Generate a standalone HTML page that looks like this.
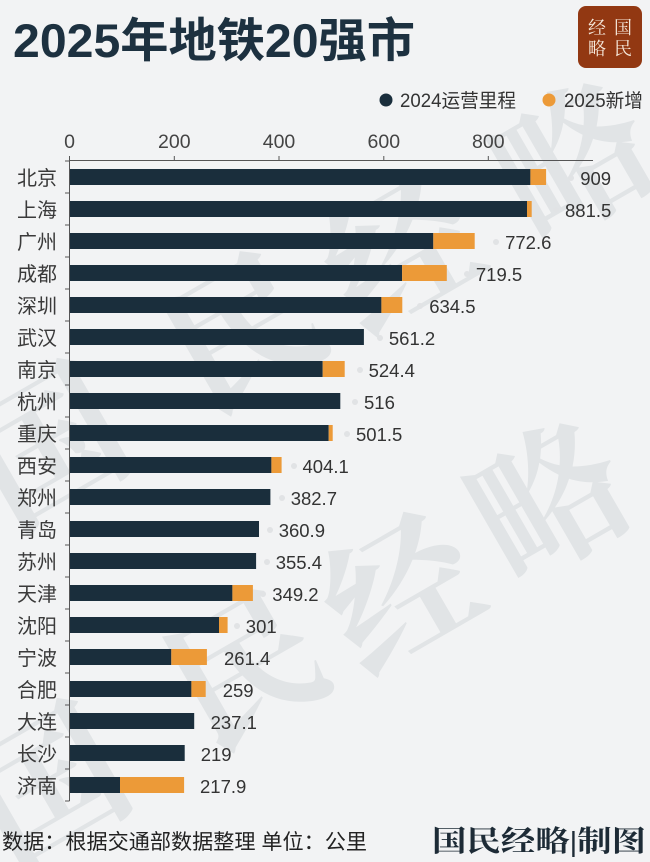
<!DOCTYPE html>
<html>
<head>
<meta charset="utf-8">
<style>
  html,body{margin:0;padding:0;background:#f2f3f4;}
  svg{display:block;}
  .cjk{font-family:"Liberation Sans","Noto Sans CJK SC",sans-serif;}
  .num{font-family:"Liberation Sans","Noto Sans CJK SC",sans-serif;}
  .ser{font-family:"Liberation Serif","Noto Serif CJK SC",serif;}
</style>
</head>
<body>
<svg width="650" height="862" viewBox="0 0 650 862" xmlns="http://www.w3.org/2000/svg">
  <rect x="0" y="0" width="650" height="862" fill="#f2f3f4"/>

  <!-- watermark -->
  <g class="ser" font-size="150" font-weight="700" fill="#e1e4e6" text-anchor="middle" dominant-baseline="central">
    <text transform="translate(50,450) rotate(-30)">国</text>
    <text transform="translate(245,335) rotate(-30)">民</text>
    <text transform="translate(403,256) rotate(-30)">经</text>
    <text transform="translate(575,165) rotate(-30)">略</text>
    <text transform="translate(50,790) rotate(-30)">国</text>
    <text transform="translate(248,672) rotate(-30)">民</text>
    <text transform="translate(403,596) rotate(-30)">经</text>
    <text transform="translate(551,505) rotate(-30)">略</text>
  </g>

  <!-- title -->
  <text x="13" y="57" class="cjk" font-size="47" font-weight="700" fill="#1d3140" textLength="402" lengthAdjust="spacingAndGlyphs">2025年地铁20强市</text>

  <!-- logo -->
  <rect x="578" y="6" width="64" height="62" rx="8" fill="#923812"/>
  <g class="ser" font-size="18" fill="#f6e9dc" text-anchor="middle">
    <text x="597" y="34">经</text>
    <text x="623" y="34">国</text>
    <text x="597" y="55">略</text>
    <text x="623" y="55">民</text>
  </g>

  <!-- legend -->
  <circle cx="386" cy="100" r="6.5" fill="#1a2e3c"/>
  <text x="400" y="107" class="cjk" font-size="19" fill="#333" textLength="116" lengthAdjust="spacingAndGlyphs">2024运营里程</text>
  <circle cx="549" cy="100" r="6.5" fill="#ec9a38"/>
  <text x="564" y="107" class="cjk" font-size="19" fill="#333" textLength="79" lengthAdjust="spacingAndGlyphs">2025新增</text>

  <!-- top axis -->
  <g stroke="#555" stroke-width="1" fill="none">
    <line x1="69" y1="160.5" x2="593" y2="160.5"/>
    <line x1="69.5" y1="156" x2="69.5" y2="801"/>
    <line x1="174.3" y1="156" x2="174.3" y2="160.5"/>
    <line x1="279" y1="156" x2="279" y2="160.5"/>
    <line x1="383.8" y1="156" x2="383.8" y2="160.5"/>
    <line x1="488.3" y1="156" x2="488.3" y2="160.5"/>
  </g>
  <g class="num" font-size="19.5" fill="#444" text-anchor="middle">
    <text x="69.5" y="148">0</text>
    <text x="174.3" y="148">200</text>
    <text x="279" y="148">400</text>
    <text x="383.8" y="148">600</text>
    <text x="488.3" y="148">800</text>
  </g>

  <!-- left ticks -->
  <g stroke="#555" stroke-width="1">
    <line x1="65" y1="161" x2="69.5" y2="161"/>
    <line x1="65" y1="193" x2="69.5" y2="193"/>
    <line x1="65" y1="225" x2="69.5" y2="225"/>
    <line x1="65" y1="257" x2="69.5" y2="257"/>
    <line x1="65" y1="289" x2="69.5" y2="289"/>
    <line x1="65" y1="321" x2="69.5" y2="321"/>
    <line x1="65" y1="353" x2="69.5" y2="353"/>
    <line x1="65" y1="385" x2="69.5" y2="385"/>
    <line x1="65" y1="417" x2="69.5" y2="417"/>
    <line x1="65" y1="449" x2="69.5" y2="449"/>
    <line x1="65" y1="481" x2="69.5" y2="481"/>
    <line x1="65" y1="513" x2="69.5" y2="513"/>
    <line x1="65" y1="545" x2="69.5" y2="545"/>
    <line x1="65" y1="577" x2="69.5" y2="577"/>
    <line x1="65" y1="609" x2="69.5" y2="609"/>
    <line x1="65" y1="641" x2="69.5" y2="641"/>
    <line x1="65" y1="673" x2="69.5" y2="673"/>
    <line x1="65" y1="705" x2="69.5" y2="705"/>
    <line x1="65" y1="737" x2="69.5" y2="737"/>
    <line x1="65" y1="769" x2="69.5" y2="769"/>
    <line x1="65" y1="801" x2="69.5" y2="801"/>
  </g>

  <!-- dark bars (2024) -->
  <g fill="#1a2e3c">
    <rect x="70" y="169" width="460.4" height="16"/>
    <rect x="70" y="201" width="457.0" height="16"/>
    <rect x="70" y="233" width="363.3" height="16"/>
    <rect x="70" y="265" width="332.1" height="16"/>
    <rect x="70" y="297" width="311.4" height="16"/>
    <rect x="70" y="329" width="293.9" height="16"/>
    <rect x="70" y="361" width="252.7" height="16"/>
    <rect x="70" y="393" width="270.3" height="16"/>
    <rect x="70" y="425" width="258.7" height="16"/>
    <rect x="70" y="457" width="201.4" height="16"/>
    <rect x="70" y="489" width="200.4" height="16"/>
    <rect x="70" y="521" width="189.0" height="16"/>
    <rect x="70" y="553" width="186.1" height="16"/>
    <rect x="70" y="585" width="162.4" height="16"/>
    <rect x="70" y="617" width="149.0" height="16"/>
    <rect x="70" y="649" width="101.3" height="16"/>
    <rect x="70" y="681" width="121.4" height="16"/>
    <rect x="70" y="713" width="124.2" height="16"/>
    <rect x="70" y="745" width="114.7" height="16"/>
    <rect x="70" y="777" width="50.0" height="16"/>
  </g>
  <!-- orange bars (2025 new) -->
  <g fill="#ec9a38">
    <rect x="530.4" y="169" width="15.7" height="16"/>
    <rect x="527.0" y="201" width="4.7" height="16"/>
    <rect x="433.3" y="233" width="41.4" height="16"/>
    <rect x="402.1" y="265" width="44.7" height="16"/>
    <rect x="381.4" y="297" width="20.9" height="16"/>
    <rect x="322.7" y="361" width="22.0" height="16"/>
    <rect x="328.7" y="425" width="4.0" height="16"/>
    <rect x="271.4" y="457" width="10.2" height="16"/>
    <rect x="232.4" y="585" width="20.5" height="16"/>
    <rect x="219.0" y="617" width="8.6" height="16"/>
    <rect x="171.3" y="649" width="35.6" height="16"/>
    <rect x="191.4" y="681" width="14.3" height="16"/>
    <rect x="120.0" y="777" width="64.1" height="16"/>
  </g>

  <!-- faint dots before values -->
  <g fill="#e1e3e5">
    <circle cx="571" cy="178" r="3"/>
    <circle cx="556" cy="210" r="3"/>
    <circle cx="496" cy="242" r="3"/>
    <circle cx="467" cy="274" r="3"/>
    <circle cx="420" cy="306" r="3"/>
    <circle cx="380" cy="338" r="3"/>
    <circle cx="360" cy="370" r="3"/>
    <circle cx="355" cy="402" r="3"/>
    <circle cx="347" cy="434" r="3"/>
    <circle cx="294" cy="466" r="3"/>
    <circle cx="282" cy="498" r="3"/>
    <circle cx="270" cy="530" r="3"/>
    <circle cx="267" cy="562" r="3"/>
    <circle cx="263" cy="594" r="3"/>
    <circle cx="237" cy="626" r="3"/>
  </g>

  <!-- category labels -->
  <g class="cjk" font-size="20" fill="#3a3a3a" text-anchor="end">
    <text x="57" y="185">北京</text>
    <text x="57" y="217">上海</text>
    <text x="57" y="249">广州</text>
    <text x="57" y="281">成都</text>
    <text x="57" y="313">深圳</text>
    <text x="57" y="345">武汉</text>
    <text x="57" y="377">南京</text>
    <text x="57" y="409">杭州</text>
    <text x="57" y="441">重庆</text>
    <text x="57" y="473">西安</text>
    <text x="57" y="505">郑州</text>
    <text x="57" y="537">青岛</text>
    <text x="57" y="569">苏州</text>
    <text x="57" y="601">天津</text>
    <text x="57" y="633">沈阳</text>
    <text x="57" y="665">宁波</text>
    <text x="57" y="697">合肥</text>
    <text x="57" y="729">大连</text>
    <text x="57" y="761">长沙</text>
    <text x="57" y="793">济南</text>
  </g>

  <!-- value labels -->
  <g class="num" font-size="18.5" fill="#333">
    <text x="580.2" y="185">909</text>
    <text x="565.0" y="217">881.5</text>
    <text x="505.1" y="249">772.6</text>
    <text x="475.9" y="281">719.5</text>
    <text x="429.2" y="313">634.5</text>
    <text x="388.9" y="345">561.2</text>
    <text x="368.6" y="377">524.4</text>
    <text x="364.0" y="409">516</text>
    <text x="356.0" y="441">501.5</text>
    <text x="302.5" y="473">404.1</text>
    <text x="290.7" y="505">382.7</text>
    <text x="278.7" y="537">360.9</text>
    <text x="275.7" y="569">355.4</text>
    <text x="272.3" y="601">349.2</text>
    <text x="245.8" y="633">301</text>
    <text x="224.0" y="665">261.4</text>
    <text x="222.7" y="697">259</text>
    <text x="210.6" y="729">237.1</text>
    <text x="200.7" y="761">219</text>
    <text x="200.0" y="793">217.9</text>
  </g>

  <!-- footer -->
  <text x="2" y="849" class="cjk" font-size="21" fill="#222" textLength="365" lengthAdjust="spacingAndGlyphs">数据：根据交通部数据整理 单位：公里</text>
  <text x="432" y="851" class="ser" font-size="29" font-weight="700" fill="#1d2b36" textLength="214" lengthAdjust="spacingAndGlyphs">国民经略|制图</text>
</svg>
</body>
</html>
